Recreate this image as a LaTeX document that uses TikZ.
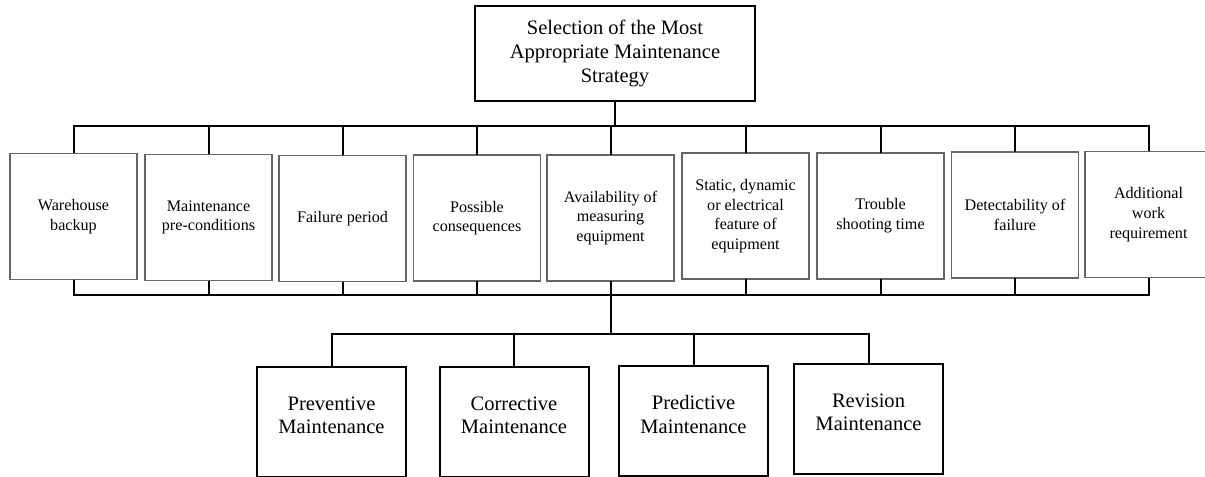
\documentclass[tikz,border=0pt]{standalone}
\usepackage{fontspec}
\setmainfont{Liberation Serif}

\tikzset{
  topbox/.style={draw, line width=1.5pt, inner sep=0pt, outer sep=0pt, align=center,
    minimum width=210pt, minimum height=71.25pt, font={\fontsize{15.4}{18}\selectfont}},
  critbox/.style={draw=black!60, line width=1.1pt, inner sep=0pt, outer sep=0pt, align=center,
    minimum width=95.25pt, minimum height=94.5pt, font={\fontsize{12.1}{14.8}\selectfont}},
  kindbox/.style={draw, line width=1.5pt, inner sep=0pt, outer sep=0pt, align=center,
    minimum width=111.75pt, minimum height=82.5pt, text depth=9pt,
    font={\fontsize{15.4}{17.5}\selectfont}},
  wire/.style={line width=1.5pt}
}

\begin{document}
\begin{tikzpicture}[x=0.75pt, y=-0.75pt]
    \clip (0,0) rectangle (1205,477);

    \node[topbox] (top) at (615,53.5) {Selection of the Most\\Appropriate Maintenance\\Strategy};

    \node[critbox] (c1) at (73.5,216.5) {Warehouse\\backup};
    \node[critbox] (c2) at (208.5,217.5) {Maintenance\\pre-conditions};
    \node[critbox] (c3) at (342.5,218.5) {Failure period};
    \node[critbox] (c4) at (477,218) {Possible\\consequences};
    \node[critbox] (c5) at (610.5,218) {Availability of\\measuring\\equipment};
    \node[critbox] (c6) at (745.5,216) {Static, dynamic\\or electrical\\feature of\\equipment};
    \node[critbox] (c7) at (880.5,216) {Trouble\\shooting time};
    \node[critbox] (c8) at (1015,215) {Detectability of\\failure};
    \node[critbox] (c9) at (1148.5,214.5) {Additional\\work\\requirement};

    \node[kindbox] (p1) at (331.5,421.5) {Preventive\\Maintenance};
    \node[kindbox] (p2) at (514,421.5) {Corrective\\Maintenance};
    \node[kindbox] (p3) at (693.5,420.5) {Predictive\\Maintenance};
    \node[kindbox] (p4) at (868.5,418.5) {Revision\\Maintenance};

    \coordinate (tb) at (0,126);
    \coordinate (bb) at (0,295);
    \coordinate (lb) at (0,334);

    \draw[wire] (top.south) -- (top.south |- tb);
    \draw[wire] (c1.north) |- (c9.north |- tb) -- (c9.north);
    \foreach \i in {2,...,8}
        \draw[wire] (c\i.north) -- (c\i.north |- tb);

    \draw[wire] (c1.south) |- (c9.south |- bb) -- (c9.south);
    \foreach \i in {2,...,8}
        \draw[wire] (c\i.south) -- (c\i.south |- bb);

    \draw[wire] (c5.south |- bb) -- (c5.south |- lb);
    \draw[wire] (p1.north) |- (p4.north |- lb) -- (p4.north);
    \draw[wire] (p2.north) -- (p2.north |- lb);
    \draw[wire] (p3.north) -- (p3.north |- lb);
\end{tikzpicture}
\end{document}
